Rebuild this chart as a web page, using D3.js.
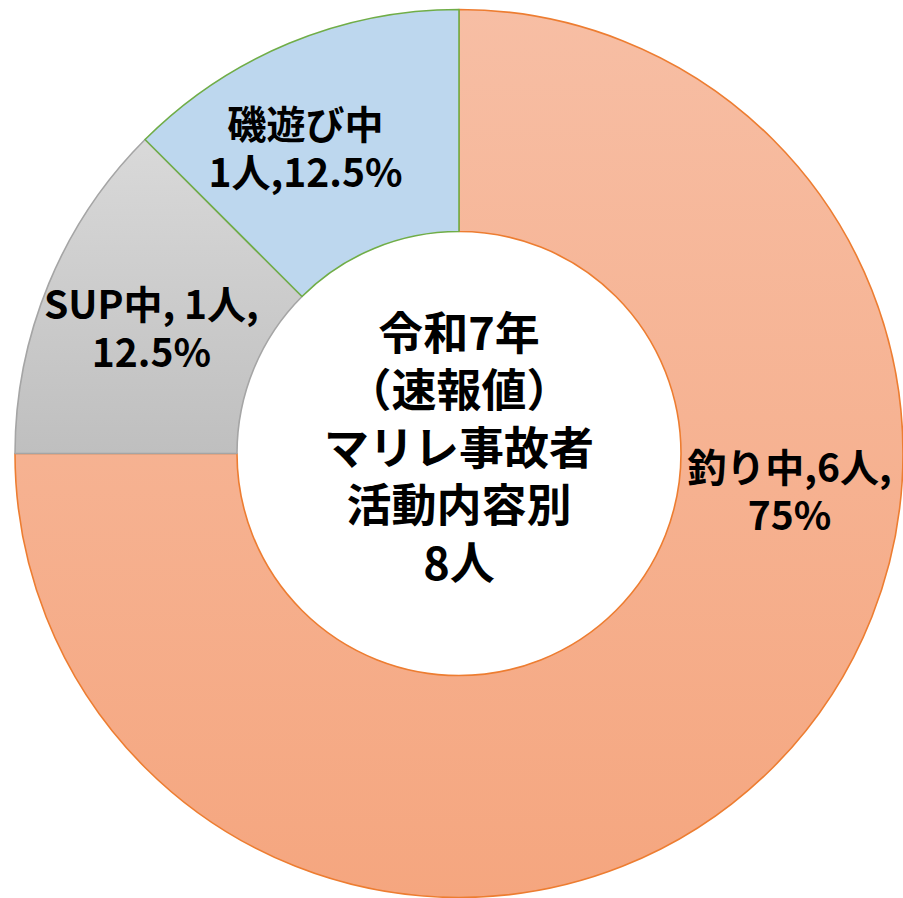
<!DOCTYPE html>
<html>
<head>
<meta charset="utf-8">
<script src="https://cdn.jsdelivr.net/npm/d3@7"></script>
<style>
  body { margin: 0; background: #fff; }
  svg { display: block; }
</style>
</head>
<body>
<div id="chart"></div>
<script>
// data
var categories = ["釣り中", "SUP中", "磯遊び中"];
var counts = [6, 1, 1];
var labelLines = [["釣り中,6人,", "75%"], ["SUP中, 1人,", "12.5%"], ["磯遊び中", "1人,12.5%"]];
var centerLines = ["令和7年", "（速報値）", "マリレ事故者", "活動内容別", "8人"];

var width = 903, height = 898;
var cx = 459, cy = 453.5;
var outerR = 444, innerR = 222;

var fills = [["#f7bea4", "#f5a67f"], ["#d9d9d9", "#bfbfbf"], ["#bdd7ee", "#bdd7ee"]];
var strokes = ["#ed7d31", "#a5a5a5", "#70ad47"];

var svg = d3.select("#chart")
    .append("svg")
    .attr("width", width)
    .attr("height", height);

var defs = svg.append("defs");
fills.forEach(function(f, i){
    var g = defs.append("linearGradient")
        .attr("id", "grad" + i)
        .attr("x1", 0).attr("y1", 0).attr("x2", 0).attr("y2", 1);
    g.append("stop").attr("offset", "0%").attr("stop-color", f[0]);
    g.append("stop").attr("offset", "100%").attr("stop-color", f[1]);
});

var g = svg.append("g")
    .attr("transform", "translate(" + cx + "," + cy + ")");

var pie = d3.pie()
    .sort(null)
    .value(function(d){ return d; });

var arc = d3.arc()
    .innerRadius(innerR)
    .outerRadius(outerR);

var arcs = pie(counts);

g.selectAll("path.slice")
    .data(arcs)
    .enter().append("path")
    .attr("class", "slice")
    .attr("d", arc)
    .style("fill", function(d, i){ return "url(#grad" + i + ")"; })
    .style("stroke", function(d, i){ return strokes[i]; })
    .style("stroke-width", "1.6px")
    .style("stroke-linejoin", "round");

// labels: big slice label is pushed to the right like Excel does
var labelR = (innerR + outerR) / 2;
var labelArc = d3.arc().innerRadius(labelR).outerRadius(labelR);
var labelShift = [[95, -196], [0, 4], [-26, 4]];

var labels = g.selectAll("text.lbl")
    .data(arcs)
    .enter().append("text")
    .attr("class", "lbl")
    .attr("text-anchor", "middle")
    .style("font-family", "'Noto Sans CJK JP', sans-serif")
    .style("font-weight", "700")
    .style("font-size", "39px")
    .style("fill", "#000")
    .attr("transform", function(d, i){
        var c = labelArc.centroid(d);
        return "translate(" + (c[0] + labelShift[i][0]) + "," + (c[1] + labelShift[i][1]) + ")";
    });

labels.selectAll("tspan")
    .data(function(d, i){ return labelLines[i]; })
    .enter().append("tspan")
    .attr("x", 0)
    .attr("y", function(d, j){ return (j - 0.5) * 48 + 13; })
    .text(function(d){ return d; });

// center title
g.append("text")
    .attr("text-anchor", "middle")
    .style("font-family", "'Noto Sans CJK JP', sans-serif")
    .style("font-weight", "700")
    .style("font-size", "45px")
    .style("fill", "#000")
    .selectAll("tspan")
    .data(centerLines)
    .enter().append("tspan")
    .attr("x", 0)
    .attr("y", function(d, j){ return (j - 2) * 57.5 + 11; })
    .text(function(d){ return d; });
</script>
</body>
</html>
